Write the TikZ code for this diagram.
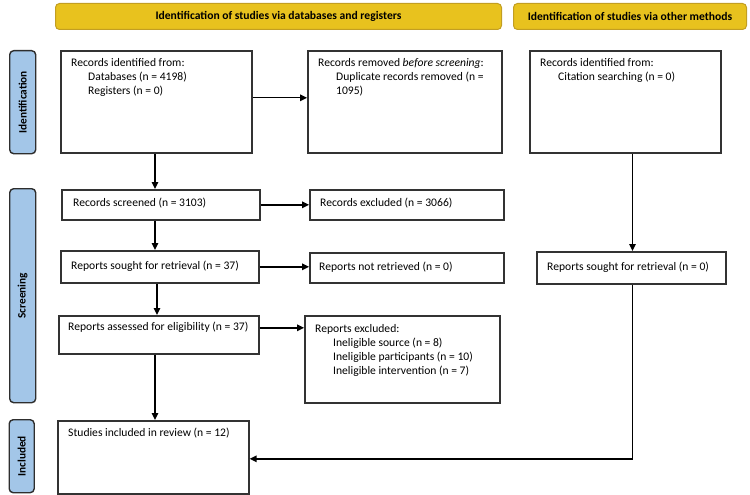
\documentclass[tikz,border=0pt]{standalone}
\usepackage{fontspec}
\setmainfont{Carlito}
\usetikzlibrary{arrows.meta,calc}
\definecolor{hdrfill}{HTML}{E8C21E}
\definecolor{hdrdraw}{HTML}{C29E22}
\definecolor{sidefill}{HTML}{A3C6E8}
\definecolor{sidedraw}{HTML}{2E2E2E}
\definecolor{boxdraw}{HTML}{333333}
\tikzset{
  hdr/.style={draw=hdrdraw, fill=hdrfill, line width=1pt, rounded corners=4pt, font=\fontsize{11.6}{13}\selectfont\bfseries},
  side/.style={draw=sidedraw, fill=sidefill, line width=1.4pt, rounded corners=4pt},
  sidetxt/.style={rotate=90, font=\fontsize{11.3}{13}\selectfont\bfseries, inner sep=0pt},
  flowbox/.style={draw=boxdraw, line width=1.6pt, fill=white},
  txt/.style={inner sep=0pt, align=left, font=\fontsize{11.6}{14}\selectfont},
  arr/.style={line width=1.4pt, -{Triangle[length=7pt,width=6.5pt]}},
  ln/.style={line width=1.4pt}
}
\newcommand{\boxat}[3]{\node[flowbox, anchor=north west, minimum width={#2}, minimum height={#3}, inner sep=0pt] (#1)}
\begin{document}
\begin{tikzpicture}[x=1pt,y=-1pt]
\useasboundingbox (0,0) rectangle (750,495);
% headers
\node[hdr, anchor=north west, minimum width=446pt, minimum height=26pt] (h1) at (55,3) {Identification of studies via databases and registers};
\node[hdr, anchor=north west, minimum width=233pt, minimum height=26pt] (h2) at (513,3) {Identification of studies via other methods};
% side bars
\node[side, anchor=north west, minimum width=26pt, minimum height=103pt] (s1) at (9,50) {};
\node[sidetxt] (s1t) at (s1.center) {Identification};
\node[side, anchor=north west, minimum width=26pt, minimum height=214pt] (s2) at (9,188) {};
\node[sidetxt] (s2t) at (s2.center) {Screening};
\node[side, anchor=north west, minimum width=25pt, minimum height=73pt] (s3) at (8.5,419) {};
\node[sidetxt] (s3t) at (s3.center) {Included};
% boxes
\boxat{boxA}{191pt}{102pt} at (60,50) {};
\boxat{boxB}{194pt}{102pt} at (307,50) {};
\boxat{boxC}{191pt}{102pt} at (529,50) {};
\boxat{scr}{198pt}{30pt} at (61,189) {};
\boxat{exc}{194pt}{30pt} at (309,189) {};
\boxat{sought}{198pt}{32pt} at (60,250) {};
\boxat{notret}{194pt}{30pt} at (309,252) {};
\boxat{osought}{189pt}{32pt} at (536,251) {};
\boxat{assess}{200pt}{38pt} at (58,315) {};
\boxat{rexc}{195pt}{87pt} at (304,315) {};
\boxat{incl}{191pt}{73pt} at (57,420) {};
% texts
\node[txt, anchor=north west] (tA) at (71,58) {Records identified from:\\\hspace*{17pt}Databases (n = 4198)\\\hspace*{17pt}Registers (n = 0)};
\node[txt, anchor=north west] (tB) at (318,58) {Records removed \textit{before screening}:\\\hspace*{18pt}Duplicate records removed (n =\\\hspace*{18pt}1095)};
\node[txt, anchor=north west] (tC) at (540,58) {Records identified from:\\\hspace*{18pt}Citation searching (n = 0)};
\node[txt, anchor=west] (tscr) at (73,203) {Records screened (n = 3103)};
\node[txt, anchor=west] (texc) at (320,203) {Records excluded (n = 3066)};
\node[txt, anchor=west] (tsought) at (71,266) {Reports sought for retrieval (n = 37)};
\node[txt, anchor=west] (tnotret) at (319,267) {Reports not retrieved (n = 0)};
\node[txt, anchor=west] (tosought) at (547,267) {Reports sought for retrieval (n = 0)};
\node[txt, anchor=west] (tassess) at (68,327) {Reports assessed for eligibility (n = 37)};
\node[txt, anchor=north west] (trexc) at (315,324.5) {Reports excluded:\\\hspace*{18pt}Ineligible source (n = 8)\\\hspace*{18pt}Ineligible participants (n = 10)\\\hspace*{18pt}Ineligible intervention (n = 7)};
\node[txt, anchor=west] (tincl) at (68,433) {Studies included in review (n = 12)};
% column coordinates
\coordinate (colL) at (155,0);
\coordinate (colL2) at (157,0);
\coordinate (colR) at (632.5,0);
% horizontal arrows
\draw[arr] ([yshift=4pt]boxA.east) -- ([yshift=4pt]boxA.east -| boxB.west);
\draw[arr] (scr.east) -- (scr.east -| exc.west);
\draw[arr] (sought.east) -- (sought.east -| notret.west);
\draw[arr] ([yshift=7pt]assess.east) -- ([yshift=7pt]assess.east -| rexc.west);
% vertical arrows
\draw[arr] (colL |- boxA.south) -- (colL |- scr.north);
\draw[arr] (colL |- scr.south) -- (colL |- sought.north);
\draw[arr] (colL2 |- sought.south) -- (colL2 |- assess.north);
\draw[arr] (colL |- assess.south) -- (colL |- incl.north);
\draw[arr] (colR |- boxC.south) -- (colR |- osought.north);
\coordinate (corner) at (colR |- incl.east);
\draw[ln] (colR |- osought.south) -- ([yshift=-1.5pt]corner);
\draw[arr] ([yshift=-1.5pt]corner) -- ([yshift=-1.5pt]incl.east);
\end{tikzpicture}
\end{document}
